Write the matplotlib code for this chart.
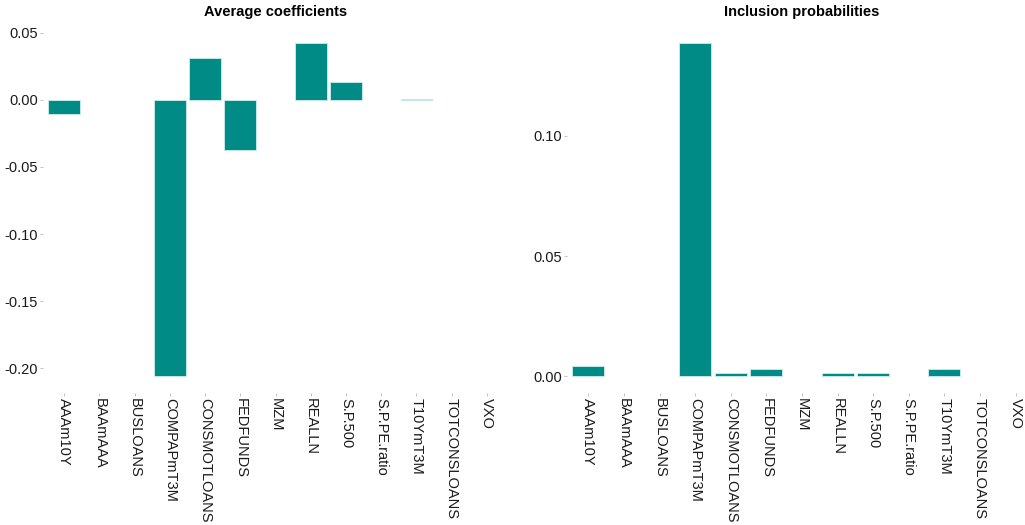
import matplotlib.pyplot as plt
import numpy as np

plt.rcParams['font.family'] = ['Liberation Sans', 'DejaVu Sans']

variables = ['AAAm10Y', 'BAAmAAA', 'BUSLOANS', 'COMPAPmT3M', 'CONSMOTLOANS',
             'FEDFUNDS', 'MZM', 'REALLN', 'S.P.500', 'S.P.PE.ratio',
             'T10YmT3M', 'TOTCONSLOANS', 'VXO']
avg_coef = [-0.0104, 0.0, 0.0, -0.2060, 0.0313, -0.0373, 0.0, 0.0425,
            0.0134, 0.0, 0.0006, 0.0, 0.0]
incl_prob = [0.0042, 0.0, 0.0, 0.1388, 0.0013, 0.0030, 0.0, 0.0013,
             0.0013, 0.0, 0.0030, 0.0, 0.0]

TEAL = '#008b87'
EDGE = '#cdeeec'

fig = plt.figure(figsize=(10.25, 5.25), dpi=100)
W, H = 1025.0, 525.0
top_px, bot_px = 26, 393

def make_ax(x0, x1):
    return fig.add_axes([x0 / W, 1 - bot_px / H, (x1 - x0) / W, (bot_px - top_px) / H])

ax1 = make_ax(43, 508)
ax2 = make_ax(567, 1037)

x = np.arange(len(variables))
for ax, vals, title, ticks in [
        (ax1, avg_coef, 'Average coefficients', [0.05, 0.0, -0.05, -0.10, -0.15, -0.20]),
        (ax2, incl_prob, 'Inclusion probabilities', [0.0, 0.05, 0.10])]:
    # zero-valued bars get no outline so they stay invisible
    edges = [EDGE if v != 0 else 'none' for v in vals]
    ax.bar(x, vals, width=0.9, color=TEAL, edgecolor=edges, linewidth=0.6)
    lo, hi = min(min(vals), 0), max(max(vals), 0)
    pad = (hi - lo) * 0.05
    ax.set_ylim(lo - pad, hi + pad)
    ax.set_xlim(-0.6, len(variables) - 0.4)
    ax.set_yticks(ticks)
    ax.set_yticklabels(['%.2f' % t for t in ticks])
    ax.set_xticks(x)
    ax.set_xticklabels(variables, rotation=-90, va='top', ha='center')
    for s in ax.spines.values():
        s.set_visible(False)
    ax.tick_params(axis='both', length=2, width=0.5, color='#aaaaaa',
                   labelsize=10.5, labelcolor='#1a1a1a', pad=1.5)
    ax.set_title(title, fontsize=10.5, fontweight='bold', pad=7)

fig.savefig('out.png', dpi=100)
